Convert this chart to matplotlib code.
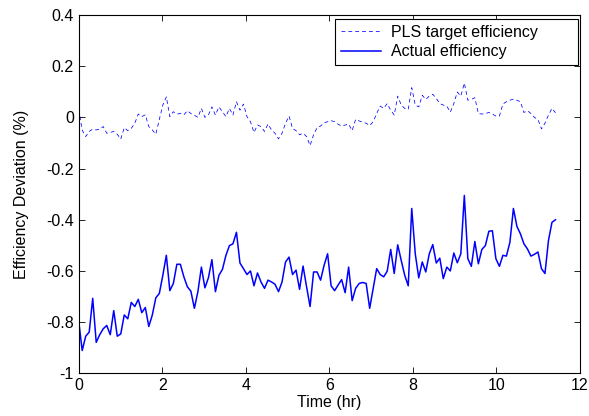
import numpy as np
import matplotlib
matplotlib.use("Agg")
import matplotlib.pyplot as plt

plt.rcParams['font.family'] = ['Liberation Sans', 'DejaVu Sans']

# efficiency deviation (%) sampled every ~5 min
actual_eff = [
    -0.795, -0.911, -0.855, -0.839, -0.707, -0.879, -0.849, -0.826, -0.813, -0.849,
    -0.755, -0.855, -0.846, -0.772, -0.787, -0.723, -0.739, -0.711, -0.763, -0.743,
    -0.817, -0.772, -0.705, -0.688, -0.617, -0.539, -0.677, -0.649, -0.574, -0.574,
    -0.623, -0.662, -0.679, -0.746, -0.681, -0.585, -0.666, -0.627, -0.556, -0.681,
    -0.617, -0.594, -0.539, -0.501, -0.494, -0.449, -0.569, -0.591, -0.614, -0.600,
    -0.658, -0.608, -0.643, -0.668, -0.636, -0.643, -0.652, -0.681, -0.643, -0.565,
    -0.546, -0.614, -0.597, -0.672, -0.581, -0.662, -0.739, -0.604, -0.604, -0.636,
    -0.578, -0.533, -0.658, -0.677, -0.655, -0.634, -0.685, -0.585, -0.716, -0.668,
    -0.649, -0.645, -0.649, -0.746, -0.668, -0.591, -0.614, -0.623, -0.601, -0.516,
    -0.610, -0.498, -0.559, -0.617, -0.658, -0.356, -0.533, -0.627, -0.565, -0.604,
    -0.533, -0.497, -0.569, -0.550, -0.630, -0.585, -0.600, -0.530, -0.568, -0.533,
    -0.305, -0.552, -0.582, -0.485, -0.572, -0.516, -0.501, -0.445, -0.443, -0.552,
    -0.582, -0.539, -0.542, -0.488, -0.356, -0.426, -0.455, -0.494, -0.514, -0.542,
    -0.535, -0.526, -0.591, -0.610, -0.481, -0.410, -0.400,
]

pls_target = [
    0.031, -0.050, -0.075, -0.055, -0.046, -0.049, -0.046, -0.036, -0.062, -0.059,
    -0.055, -0.066, -0.085, -0.040, -0.052, -0.043, -0.023, 0.013, 0.003, 0.010,
    -0.036, -0.049, -0.066, -0.008, 0.048, 0.080, 0.003, 0.022, 0.013, 0.015,
    0.010, 0.026, 0.015, 0.008, 0.000, 0.035, 0.000, 0.009, 0.041, 0.009,
    0.041, 0.022, 0.003, 0.035, 0.009, 0.061, 0.028, 0.052, 0.003, -0.017,
    -0.059, -0.030, -0.036, -0.055, -0.026, -0.049, -0.062, -0.084, -0.062, -0.023,
    0.005, -0.043, -0.052, -0.068, -0.062, -0.075, -0.110, -0.068, -0.040, -0.034,
    -0.021, -0.017, -0.013, -0.017, -0.027, -0.034, -0.030, -0.026, -0.052, -0.008,
    -0.014, -0.019, -0.023, -0.032, -0.017, 0.015, 0.044, 0.035, 0.054, 0.028,
    0.009, 0.083, 0.048, 0.035, 0.031, 0.116, 0.048, 0.041, 0.086, 0.070,
    0.083, 0.090, 0.074, 0.054, 0.048, 0.044, 0.020, 0.054, 0.099, 0.083,
    0.134, 0.067, 0.070, 0.077, 0.015, 0.013, 0.015, 0.019, 0.013, 0.005,
    0.005, 0.052, 0.061, 0.067, 0.071, 0.067, 0.061, 0.019, 0.026, 0.015,
    0.000, -0.008, -0.045, -0.023, 0.009, 0.035, 0.018,
]

t_end = 11.42  # hr, last sample
time_hr = np.linspace(0, t_end, len(actual_eff))

xticks = [0, 2, 4, 6, 8, 10, 12]
yticks = [-1, -0.8, -0.6, -0.4, -0.2, 0, 0.2, 0.4]
ytick_labels = ['-1', '-0.8', '-0.6', '-0.4', '-0.2', '0', '0.2', '0.4']

fs = 11.5

fig = plt.figure(figsize=(5.89, 4.16), dpi=100)
ax = fig.add_axes([0.1336, 0.1026, 0.8506, 0.8614])

ax.plot(time_hr, pls_target, color='b', linewidth=0.55, linestyle=(0, (5, 4)),
        label='PLS target efficiency')
ax.plot(time_hr, actual_eff, color='b', linewidth=1.1, label='Actual efficiency')

ax.set_xlim(0, 12)
ax.set_ylim(-1, 0.4)
ax.set_xticks(xticks)
ax.set_xticklabels([str(v) for v in xticks])
ax.set_yticks(yticks)
ax.set_yticklabels(ytick_labels)
ax.tick_params(direction='in', top=True, right=True, labelsize=fs, length=4, width=0.6)
for s in ax.spines.values():
    s.set_linewidth(0.8)

ax.set_xlabel('Time (hr)', fontsize=fs, labelpad=1.5)
ax.set_ylabel('Efficiency Deviation (%)', fontsize=fs, labelpad=12)

leg = ax.legend(loc='upper right', bbox_to_anchor=(0.512, 0.86, 0.485, 0.13),
                mode='expand', fancybox=False, framealpha=1, edgecolor='k',
                fontsize=fs, handlelength=2.5, borderaxespad=0, labelspacing=0.28,
                handletextpad=0.6, borderpad=0.38)
leg.get_frame().set_linewidth(0.8)

fig.savefig('out.png', dpi=100)
